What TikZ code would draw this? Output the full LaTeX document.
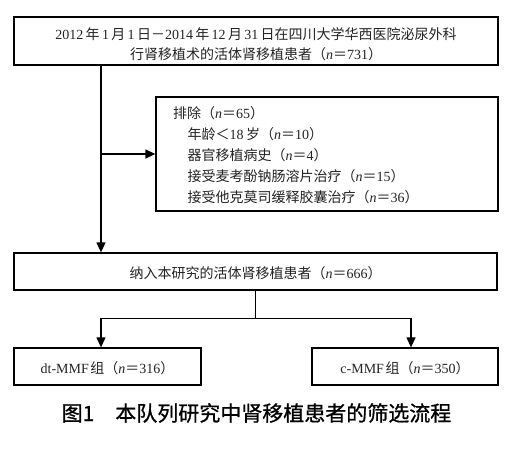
\documentclass[tikz,border=0pt]{standalone}
\usepackage{fontspec}
\usepackage{xcolor}
\usepackage{tikz}
\usetikzlibrary{arrows.meta,positioning,calc}
\setmainfont{Liberation Serif}
\newfontfamily\zh{Noto Sans CJK SC}
\newfontfamily\zhcap{Noto Sans CJK SC}[FakeBold=0.9]
\definecolor{inkgray}{RGB}{35, 35, 35}
\newcommand{\nn}[1]{{\zh （}\textit{n}{\zh ＝}#1{\zh ）}}
\newcommand{\lowered}[2][2pt]{\raisebox{-#1}[\height][\depth]{#2}}

\begin{document}
\begin{tikzpicture}[
  x=1pt, y=-1pt,
  box/.style={rectangle, draw=black, line width=1.3pt, align=center, inner sep=0pt, text=inkgray, font=\fontsize{14}{20}\selectfont},
  exclbox/.style={box, align=left, text width=308pt, inner xsep=17pt, minimum height=114pt, font=\fontsize{14}{21}\selectfont},
  flow/.style={-{Triangle[length=10pt,width=9pt]}, line width=1.3pt},
  link/.style={line width=1.3pt}
]
\useasboundingbox (0,0) rectangle (518,448);

% Boxes
\node[box, minimum width=484pt, minimum height=48pt] (screened) at (256,41)
  {\lowered[4pt]{\begin{tabular}{@{}c@{}}
   2012\,{\zh 年}\,1\,{\zh 月}\,1\,{\zh 日－}2014\,{\zh 年}\,12\,{\zh 月}\,31\,{\zh 日在四川大学华西医院泌尿外科}\\
   {\zh 行肾移植术的活体肾移植患者}\nn{731}\end{tabular}}};
\node[exclbox] (excluded) at (327,154)
  {\lowered[2pt]{\begin{tabular}{@{}l@{}}
   {\zh 排除}\nn{65}\\
   \hspace*{1.05em}{\zh 年龄＜}18\,{\zh 岁}\nn{10}\\
   \hspace*{1.05em}{\zh 器官移植病史}\nn{4}\\
   \hspace*{1.05em}{\zh 接受麦考酚钠肠溶片治疗}\nn{15}\\
   \hspace*{1.05em}{\zh 接受他克莫司缓释胶囊治疗}\nn{36}\end{tabular}}};
\node[box, minimum width=483pt, minimum height=37pt] (included) at (255.5,271.5)
  {\lowered[1.5pt]{{\zh 纳入本研究的活体肾移植患者}\nn{666}}};
\node[box, minimum width=187pt, minimum height=37pt] (dtgroup) at (107.5,366.5)
  {\lowered[2pt]{dt-MMF\hspace{1.5pt}{\zh 组}\nn{316}}};
\node[box, minimum width=186pt, minimum height=37pt] (cgroup) at (405,366.5)
  {\lowered[2pt]{c-MMF\hspace{1.5pt}{\zh 组}\nn{350}}};

% Caption
\node[font=\fontsize{21}{24}\selectfont\zhcap] (caption) at (256.5,413)
  {图1　本队列研究中肾移植患者的筛选流程};

% Connectors
\coordinate (trunk) at (101,0);
\coordinate (rightdrop) at (411,0);
\draw[flow] (screened.south -| trunk) -- (included.north -| trunk);
\draw[flow] (trunk |- excluded.west) -- (excluded.west);
\draw[link] (included.south) -- ++(0,28) coordinate (split);
\draw[flow] (split) -| (dtgroup.north -| trunk);
\draw[flow] (split) -| (cgroup.north -| rightdrop);

\end{tikzpicture}
\end{document}
